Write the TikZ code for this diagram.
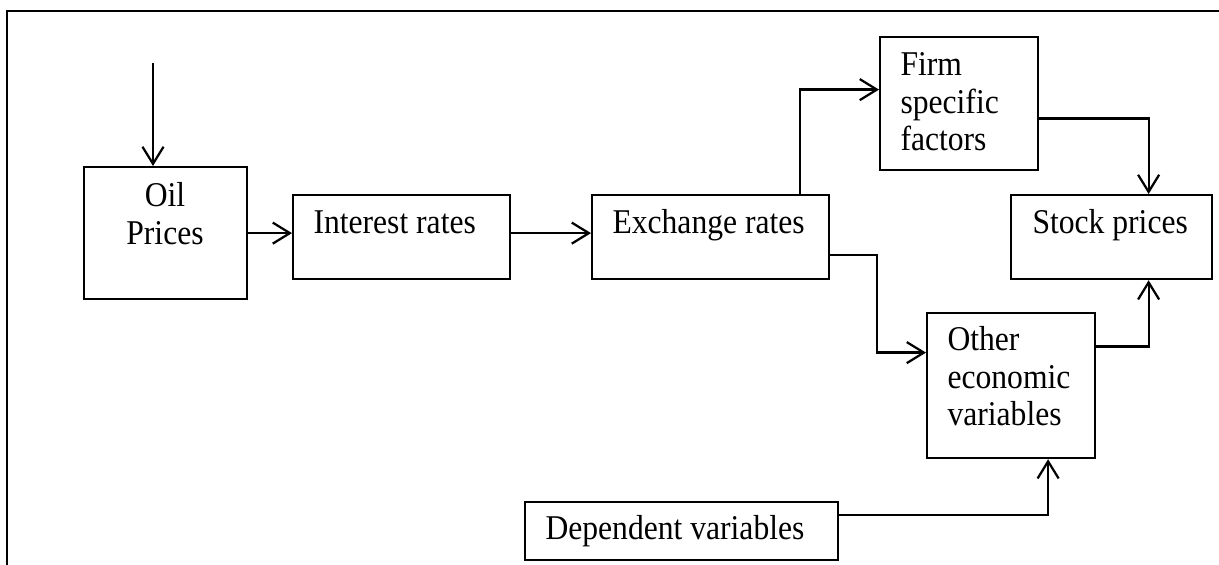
\documentclass[tikz,border=0pt]{standalone}
\usepackage{fontspec}
\setmainfont{Liberation Serif}[FakeStretch=0.91]
\usetikzlibrary{arrows.meta}
\newdimen\px \px=0.38pt
\tikzset{
  box/.style={draw,line width=0.85pt,anchor=north west,inner sep=0pt},
  txt/.style={inner sep=0pt,align=left,font=\fontsize{13.2}{14.3}\selectfont},
  arr/.style={line width=0.85pt,-{Straight Barb[length=6.5pt,width=8pt]}},
}
\begin{document}
\begin{tikzpicture}[x=0.38pt,y=-0.38pt]
\useasboundingbox (0,0) rectangle (1219,565);
\draw[line width=0.85pt] (7,565) -- (7,11) -- (1219,11);
\node[box,minimum width=163\px,minimum height=132\px] (oil) at (83,166) {};
\node[box,minimum width=217\px,minimum height=84\px] (interest) at (292,194) {};
\node[box,minimum width=237\px,minimum height=84\px] (exchange) at (591,194) {};
\node[box,minimum width=158\px,minimum height=133\px] (firm) at (879,36) {};
\node[box,minimum width=201\px,minimum height=84\px] (stock) at (1010,194) {};
\node[box,minimum width=168\px,minimum height=145\px] (other) at (926,312) {};
\node[box,minimum width=313\px,minimum height=58\px] (dependent) at (524,501) {};
\node[txt,anchor=north,align=center] (oiltext) at (165,182) {Oil\\Prices};
\node[txt,anchor=base west] (interesttext) at (313,234) {Interest rates};
\node[txt,anchor=base west] (exchangetext) at (612,234) {Exchange rates};
\node[txt,anchor=north west] (firmtext) at (900,52) {Firm\\specific\\factors};
\node[txt,anchor=base west] (stocktext) at (1032,234) {Stock prices};
\node[txt,anchor=north west] (othertext) at (947,326) {Other\\economic\\variables};
\node[txt,anchor=base west] (dependenttext) at (545,540) {Dependent variables};
\coordinate (in) at (153,63);
\draw[arr] (in) -- (in |- oil.north);
\draw[arr] (oil.east) -- (oil.east -| interest.west);
\draw[arr] (oil.east -| interest.east) -- (oil.east -| exchange.west);
\draw[arr] ([xshift=89\px]exchange.north) |- ([yshift=14\px]firm.west);
\draw[arr] ([yshift=-18\px]exchange.east) -| ([xshift=-49\px,yshift=33\px]other.west) -- ([yshift=33\px]other.west);
\draw[arr] ([yshift=-15\px]firm.east) -| ([xshift=37\px]stock.north);
\draw[arr] ([yshift=39\px]other.east) -| ([xshift=37\px]stock.south);
\draw[arr] ([yshift=16\px]dependent.east) -| ([xshift=37\px]other.south);
\end{tikzpicture}
\end{document}
